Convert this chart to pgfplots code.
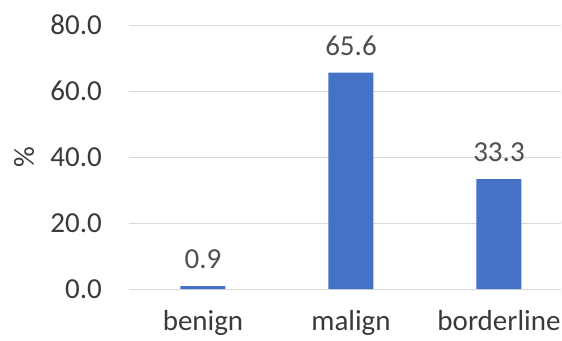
\documentclass[border=0pt]{standalone}
\usepackage{pgfplots}
\pgfplotsset{compat=1.18}
\usepackage{fontspec}
\setmainfont{Carlito}
\definecolor{barblue}{HTML}{4472C4}
\definecolor{tickgray}{HTML}{3A3A3A}
\definecolor{lblgray}{HTML}{505050}
\definecolor{gridgray}{HTML}{D9D9D9}
\newcommand\bigf{\fontsize{29}{35}\selectfont}
\begin{document}
\begin{tikzpicture}
\useasboundingbox (0,0) rectangle (562pt,340pt);
\begin{axis}[
  at={(129pt,51pt)}, anchor=south west,
  scale only axis, width=432pt, height=264pt,
  xmin=-0.5, xmax=2.419, ymin=0, ymax=80,
  ytick={0,20,40,60,80},
  xtick={0,1,2}, xticklabels={benign,malign,borderline},
  axis line style={draw=none},
  major tick length=0pt,
  ymajorgrids, grid style={color=gridgray, line width=1pt},
  /pgf/number format/assume math mode=true,
  yticklabel={\pgfmathprintnumber[fixed,fixed zerofill,precision=1]{\tick}},
  yticklabel style={font=\bigf, text=tickgray, inner sep=0pt, anchor=east, xshift=-27pt},
  xticklabel style={font=\bigf, text=tickgray, inner sep=0pt, anchor=north, yshift=-21pt},
  ylabel={\%},
  ylabel style={font=\bigf, text=tickgray, at={(axis description cs:-0.243,0.5)}, anchor=center, rotate=0},
  clip=false,
  nodes near coords={\pgfmathprintnumber[fixed,fixed zerofill,precision=1]{\pgfplotspointmeta}},
  nodes near coords style={font=\bigf, text=lblgray, inner sep=0pt, anchor=south, yshift=17pt},
]
\addplot[ybar, bar width=45pt, fill=barblue, draw=none] coordinates {(0,0.9) (1,65.6) (2,33.3)};
\end{axis}
\end{tikzpicture}
\end{document}
